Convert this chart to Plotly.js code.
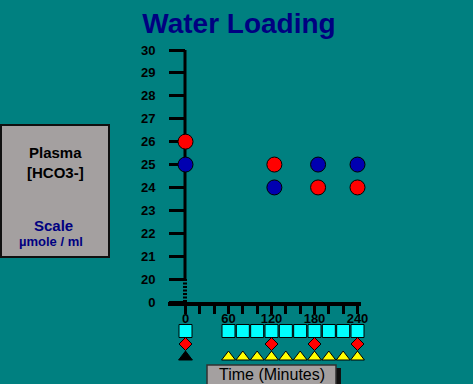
<!DOCTYPE html>
<html>
<head>
<meta charset="utf-8">
<script src="https://cdn.plot.ly/plotly-3.0.1.min.js"></script>
<style>html,body{margin:0;padding:0;background:#008080;}#chart{width:473px;height:384px;}</style>
</head>
<body>
<div id="chart"></div>
<script>
// ---- data ----
const yTickVals = [19, 20, 21, 22, 23, 24, 25, 26, 27, 28, 29, 30];
const yTickText = ['0', '20', '21', '22', '23', '24', '25', '26', '27', '28', '29', '30'];
const xTickVals = [0, 20, 40, 60, 80, 100, 120, 140, 160, 180, 200, 220, 240];
const xTickText = ['0', '', '', '60', '', '', '120', '', '', '180', '', '', '240'];

// plasma HCO3- (red and blue series)
const redTimes = [0, 124, 185, 240];
const redValues = [26, 25, 24, 24];
const blueTimes = [0, 124, 185, 240];
const blueValues = [25, 24, 25, 25];

// event rows below the time axis
const urineTimes = [0, 60, 80, 100, 120, 140, 160, 180, 200, 220, 240];
const bloodTimes = [0, 120, 180, 240];
const startTimes = [0];
const drinkTimes = [60, 80, 100, 120, 140, 160, 180, 200, 220, 240];
const rowNames = ['Water', 'Blood', 'Urine'];

// ---- layout helpers (pixel -> paper) ----
const W = 473, H = 384;
const px = v => v / W;
const py = v => (H - v) / H;

const traces = [
  {x: redTimes, y: redValues, type: 'scatter', mode: 'markers', xaxis: 'x', yaxis: 'y', cliponaxis: false,
   marker: {symbol: 'circle', size: 15, color: '#ff0000', line: {color: '#000000', width: 1}}},
  {x: blueTimes, y: blueValues, type: 'scatter', mode: 'markers', xaxis: 'x', yaxis: 'y', cliponaxis: false,
   marker: {symbol: 'circle', size: 15, color: '#0000b0', line: {color: '#000000', width: 1}}},
  {x: urineTimes, y: urineTimes.map(() => 'Urine'), type: 'scatter', mode: 'markers', xaxis: 'x', yaxis: 'y2', cliponaxis: false,
   marker: {symbol: 'square', size: 13, color: '#00ffff', line: {color: '#000000', width: 1}}},
  {x: bloodTimes, y: bloodTimes.map(() => 'Blood'), type: 'scatter', mode: 'markers', xaxis: 'x', yaxis: 'y2', cliponaxis: false,
   marker: {symbol: 'diamond', size: 10, color: '#ff0000', line: {color: '#000000', width: 1}}},
  {x: startTimes, y: startTimes.map(() => 'Water'), type: 'scatter', mode: 'markers', xaxis: 'x', yaxis: 'y2', cliponaxis: false,
   marker: {symbol: 'triangle-up', size: 12, color: '#000000', line: {color: '#000000', width: 1}}},
  {x: drinkTimes, y: drinkTimes.map(() => 'Water'), type: 'scatter', mode: 'markers', xaxis: 'x', yaxis: 'y2', cliponaxis: false,
   marker: {symbol: 'triangle-up', size: 12, color: '#ffff00', line: {color: '#000000', width: 1}}}
];

const x0px = 185.5, scale = 172 / 240;
const xr = [(168 - x0px) / scale, (361 - x0px) / scale];

const tickFont = {family: 'Liberation Sans, Arial, sans-serif', size: 13, color: '#000000', weight: 'bold'};

const layout = {
  width: W, height: H,
  margin: {l: 0, r: 0, t: 0, b: 0, pad: 0},
  paper_bgcolor: '#008080', plot_bgcolor: 'rgba(0,0,0,0)',
  showlegend: false,
  title: {text: 'Water Loading', x: px(239), xanchor: 'center', y: py(23), yanchor: 'middle',
          font: {family: 'Liberation Sans, Arial, sans-serif', size: 28, color: '#000080', weight: 'bold'}},
  xaxis: {
    domain: [px(168), px(361)], range: xr, anchor: 'y', layer: 'below traces',
    showgrid: false, zeroline: false, showline: true, linecolor: '#000000', linewidth: 4,
    tickmode: 'array', tickvals: xTickVals, ticktext: xTickText,
    ticks: 'outside', ticklen: 8, tickwidth: 3, tickcolor: '#000000', ticklabelstandoff: -7,
    tickfont: tickFont, fixedrange: true
  },
  yaxis: {
    domain: [py(302), py(50)], range: [19, 30], anchor: 'free', position: px(185), layer: 'below traces',
    showgrid: false, zeroline: false, showline: false,
    tickmode: 'array', tickvals: yTickVals, ticktext: yTickText,
    ticks: 'outside', ticklen: 16, tickwidth: 3, tickcolor: '#000000', ticklabelstandoff: 11,
    tickfont: tickFont, fixedrange: true
  },
  yaxis2: {
    domain: [py(370), py(318)], type: 'category', categoryorder: 'array', categoryarray: rowNames,
    range: [-1, 3], anchor: 'x', visible: false, fixedrange: true
  },
  shapes: [
    // y axis solid part
    {type: 'line', layer: 'below', xref: 'paper', yref: 'y', x0: px(185), x1: px(185), y0: 20, y1: 30,
     line: {color: '#000000', width: 3}},
    // y axis broken part
    {type: 'line', layer: 'below', xref: 'paper', yref: 'y', x0: px(185), x1: px(185), y0: 19, y1: 20,
     line: {color: '#000000', width: 4, dash: '2px,1.5px'}},
    // left label box
    {type: 'rect', xref: 'paper', yref: 'paper', x0: px(1), x1: px(109), y0: py(257), y1: py(125),
     fillcolor: '#a4a0a0', line: {color: '#101010', width: 2}, layer: 'below'},
    // time box shadow
    {type: 'rect', xref: 'paper', yref: 'paper', x0: px(211), x1: px(341), y0: py(390), y1: py(368),
     fillcolor: '#101010', line: {width: 0}, layer: 'below'},
    // time box
    {type: 'rect', xref: 'paper', yref: 'paper', x0: px(207), x1: px(336), y0: py(390), y1: py(365),
     fillcolor: '#a4a0a0', line: {color: '#303030', width: 1.5}, layer: 'below'}
  ],
  annotations: [
    {text: 'Plasma', xref: 'paper', yref: 'paper', x: px(55), y: py(152), xanchor: 'center', yanchor: 'middle', showarrow: false,
     font: {family: 'Liberation Sans, Arial, sans-serif', size: 15, color: '#000000', weight: 'bold'}},
    {text: '[HCO3-]', xref: 'paper', yref: 'paper', x: px(55), y: py(172), xanchor: 'center', yanchor: 'middle', showarrow: false,
     font: {family: 'Liberation Sans, Arial, sans-serif', size: 15, color: '#000000', weight: 'bold'}},
    {text: 'Scale', xref: 'paper', yref: 'paper', x: px(53), y: py(225), xanchor: 'center', yanchor: 'middle', showarrow: false,
     font: {family: 'Liberation Sans, Arial, sans-serif', size: 15, color: '#000080', weight: 'bold'}},
    {text: 'µmole / ml', xref: 'paper', yref: 'paper', x: px(51), y: py(241), xanchor: 'center', yanchor: 'middle', showarrow: false,
     font: {family: 'Liberation Sans, Arial, sans-serif', size: 13, color: '#000080', weight: 'bold'}},
    {text: 'Time (Minutes)', xref: 'paper', yref: 'paper', x: px(271.5), y: py(374), xanchor: 'center', yanchor: 'middle', showarrow: false,
     font: {family: 'Liberation Sans, Arial, sans-serif', size: 16, color: '#000000'}}
  ]
};

Plotly.newPlot('chart', traces, layout, {staticPlot: true, displayModeBar: false});
</script>
</body>
</html>
